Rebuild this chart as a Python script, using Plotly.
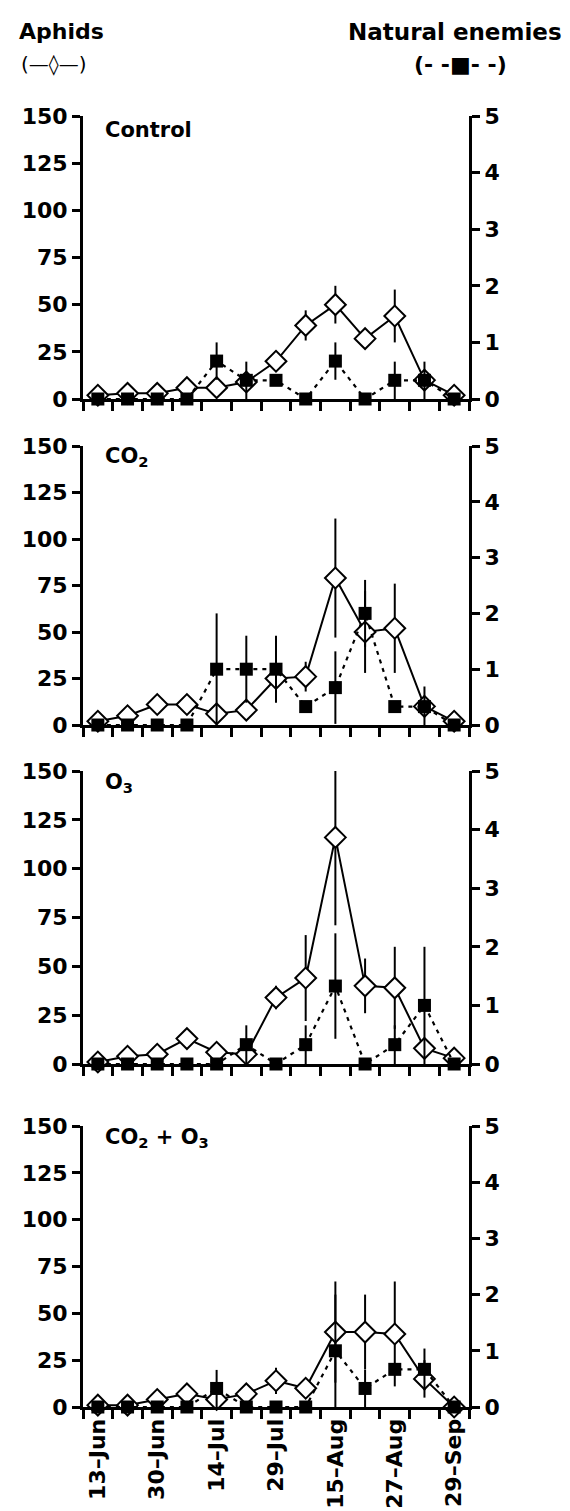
import plotly.graph_objects as go

# ---------------- data ----------------
x_idx = list(range(13))
label_pos = [0, 2, 4, 6, 8, 10, 12]
tick_labels = ["13–Jun", "30–Jun", "14–Jul", "29–Jul", "15–Aug", "27–Aug", "29–Sep"]

panel_names = ["Control", "CO<sub>2</sub>", "O<sub>3</sub>", "CO<sub>2</sub> + O<sub>3</sub>"]

aphids_control = [2, 3, 3, 6, 6, 9, 20, 39, 50, 32, 44, 10, 2]
aphids_control_err = [0, 0, 0, 0, 0, 0, 4, 8, 10, 0, 14, 0, 0]
enemies_control = [0, 0, 0, 0, 0.67, 0.33, 0.33, 0, 0.67, 0, 0.33, 0.33, 0]
enemies_control_err = [0, 0, 0, 0, 0.33, 0.33, 0, 0, 0.33, 0, 0.33, 0.33, 0]

aphids_co2 = [2, 5, 11, 11, 6, 8, 25, 26, 79, 50, 52, 10, 2]
aphids_co2_err = [0, 0, 0, 0, 0, 0, 12, 8, 32, 22, 24, 0, 0]
enemies_co2 = [0, 0, 0, 0, 1.0, 1.0, 1.0, 0.33, 0.67, 2.0, 0.33, 0.33, 0]
enemies_co2_err = [0, 0, 0, 0, 1.0, 0.6, 0.6, 0, 0.65, 0.6, 0, 0.36, 0]

aphids_o3 = [1, 4, 5, 13, 6, 5, 34, 44, 116, 40, 39, 8, 3]
aphids_o3_err = [0, 0, 0, 0, 0, 0, 6, 22, 45, 14, 21, 0, 0]
enemies_o3 = [0, 0, 0, 0, 0, 0.33, 0, 0.33, 1.33, 0, 0.33, 1.0, 0]
enemies_o3_err = [0, 0, 0, 0, 0, 0.33, 0, 0.33, 0.9, 0, 0.33, 1.0, 0]

aphids_co2o3 = [1, 1, 4, 7, 4, 7, 14, 10, 40, 40, 39, 15, 0]
aphids_co2o3_err = [0, 0, 0, 0, 0, 0, 7, 0, 27, 20, 28, 10, 0]
enemies_co2o3 = [0, 0, 0, 0, 0.33, 0, 0, 0, 1.0, 0.33, 0.67, 0.67, 0]
enemies_co2o3_err = [0, 0, 0, 0, 0.33, 0, 0, 0, 1.0, 0.33, 0, 0.37, 0]

aphids_ticks = [0, 25, 50, 75, 100, 125, 150]
enemies_ticks = [0, 1, 2, 3, 4, 5]

panels = [
    (aphids_control, aphids_control_err, enemies_control, enemies_control_err),
    (aphids_co2, aphids_co2_err, enemies_co2, enemies_co2_err),
    (aphids_o3, aphids_o3_err, enemies_o3, enemies_o3_err),
    (aphids_co2o3, aphids_co2o3_err, enemies_co2o3, enemies_co2o3_err),
]

# ---------------- layout geometry (pixels) ----------------
W, H = 570, 1511
x_left, x_right = 75, 461
panel_px = [(108, 391), (438, 717), (763, 1056), (1118, 1399)]

def fy(py):
    return 1 - py / H

def fx(px):
    return px / W

FONT = "DejaVu Sans, Liberation Sans, Arial, sans-serif"
TICKFONT = dict(family=FONT, size=22, color="black", weight="bold")

fig = go.Figure()
layout = dict(
    width=W, height=H,
    margin=dict(l=0, r=0, t=0, b=0),
    plot_bgcolor="white", paper_bgcolor="white",
    showlegend=False,
    font=dict(family=FONT, color="black"),
)

boundaries = [i - 0.5 for i in range(14)]

for i, (ap, ape, en, ene) in enumerate(panels):
    n = i + 1
    xa = "x" if n == 1 else f"x{n}"
    ya = "y" if n == 1 else f"y{n}"
    yr_num = n + 4
    yr = f"y{yr_num}"
    top, bot = panel_px[i]
    dom = [fy(bot), fy(top)]

    fig.add_trace(go.Scatter(
        x=x_idx, y=ap, xaxis=xa, yaxis=ya, mode="lines+markers",
        line=dict(color="black", width=2),
        marker=dict(symbol="diamond", size=16, color="white",
                    line=dict(color="black", width=2)),
        error_y=dict(type="data", symmetric=False, array=ape,
                     arrayminus=[min(e, v) for e, v in zip(ape, ap)],
                     color="black", thickness=2, width=0),
        cliponaxis=False,
    ))
    fig.add_trace(go.Scatter(
        x=x_idx, y=en, xaxis=xa, yaxis=yr, mode="lines+markers",
        line=dict(color="black", width=2.2, dash="4px,5px"),
        marker=dict(symbol="square", size=13, color="black"),
        error_y=dict(type="data", symmetric=False, array=ene,
                     arrayminus=[min(e, v) for e, v in zip(ene, en)],
                     color="black", thickness=2, width=0),
        cliponaxis=False,
    ))

    xkey = "xaxis" if n == 1 else f"xaxis{n}"
    ykey = "yaxis" if n == 1 else f"yaxis{n}"
    layout[xkey] = dict(
        domain=[fx(x_left), fx(x_right)], anchor=ya, range=[-0.5, 12.5],
        showline=True, linecolor="black", linewidth=3,
        showgrid=False, zeroline=False,
        tickvals=label_pos, ticktext=tick_labels, ticks="",
        showticklabels=(n == 4), tickangle=-90,
        tickfont=TICKFONT,
        minor=dict(tickvals=boundaries, ticks="outside", ticklen=9,
                   tickwidth=2.5, tickcolor="black", showgrid=False),
        automargin=False, fixedrange=True,
    )
    layout[ykey] = dict(
        domain=dom, anchor=xa, range=[0, 150], tickvals=aphids_ticks,
        showline=True, linecolor="black", linewidth=3,
        ticks="outside", ticklen=8, tickwidth=2.5, tickcolor="black",
        showgrid=False, zeroline=False, tickfont=TICKFONT,
        automargin=False, fixedrange=True,
    )
    layout[f"yaxis{yr_num}"] = dict(
        domain=dom, anchor=xa, overlaying=ya, side="right", range=[0, 5],
        tickvals=enemies_ticks,
        showline=True, linecolor="black", linewidth=3,
        ticks="outside", ticklen=8, tickwidth=2.5, tickcolor="black",
        showgrid=False, zeroline=False, tickfont=TICKFONT,
        automargin=False, fixedrange=True,
    )

fig.update_layout(**layout)

annots = []
label_offsets = [14, 11, 12, 12]
for i, name in enumerate(panel_names):
    top, bot = panel_px[i]
    annots.append(dict(
        text=f"<b>{name}</b>", x=fx(95), y=fy(top + label_offsets[i]),
        xref="paper", yref="paper", xanchor="left", yanchor="middle",
        showarrow=False, font=dict(family=FONT, size=21, color="black"),
    ))

annots += [
    dict(text="<b>Aphids</b>", x=fx(9), y=fy(24), xref="paper", yref="paper",
         xanchor="left", yanchor="middle", showarrow=False,
         font=dict(family=FONT, size=22, color="black")),
    dict(text="(—◊—)", x=fx(11), y=fy(56), xref="paper", yref="paper",
         xanchor="left", yanchor="middle", showarrow=False,
         font=dict(family=FONT, size=20, color="black")),
    dict(text="<b>Natural enemies</b>", x=fx(447), y=fy(24), xref="paper", yref="paper",
         xanchor="center", yanchor="middle", showarrow=False,
         font=dict(family=FONT, size=23, color="black")),
    dict(text="<b>(- -■- -)</b>", x=fx(452), y=fy(56), xref="paper", yref="paper",
         xanchor="center", yanchor="middle", showarrow=False,
         font=dict(family=FONT, size=22, color="black")),
]
fig.update_layout(annotations=annots)

fig.write_html("out.html")
